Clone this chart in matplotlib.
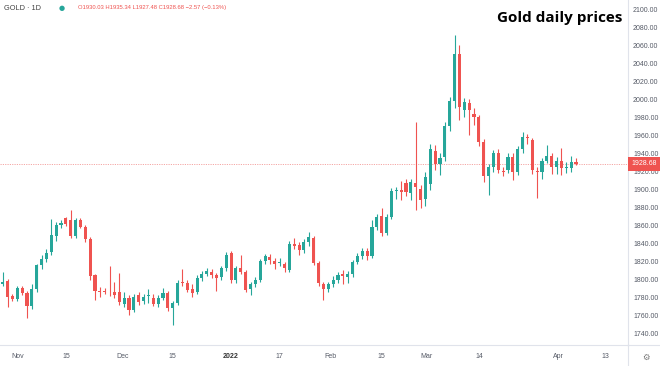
import matplotlib
matplotlib.use("Agg")
import matplotlib.pyplot as plt
import matplotlib.transforms as mtransforms
from matplotlib.lines import Line2D

# ---- data (daily candles, oldest first) ----
opens = [1795, 1799, 1782, 1779, 1791, 1785, 1771, 1790, 1816, 1823,
         1831, 1849, 1861, 1868, 1866, 1849, 1866, 1859, 1845, 1805,
         1788, 1788, 1787, 1787, 1786, 1773, 1780, 1767, 1783, 1776,
         1782, 1780, 1773, 1780, 1785, 1769, 1774, 1798, 1797, 1790,
         1786, 1802, 1807, 1809, 1805, 1803, 1813, 1830, 1800, 1813,
         1809, 1790, 1795, 1800, 1821, 1825, 1821, 1819, 1818, 1811,
         1840, 1839, 1833, 1842, 1846, 1819, 1795, 1790, 1795, 1800,
         1806, 1803, 1806, 1820, 1826, 1832, 1826, 1859, 1871, 1852,
         1870, 1898, 1900, 1907, 1896, 1907, 1901, 1889, 1906, 1943,
         1928, 1936, 1970, 1998, 2050, 1988, 1996, 1984, 1980, 1953,
         1915, 1925, 1940, 1921, 1922, 1936, 1920, 1945, 1958, 1955,
         1921, 1919, 1932, 1937, 1925, 1932, 1924, 1924, 1930.03]
highs = [1809, 1801, 1784, 1793, 1793, 1788, 1795, 1818, 1828, 1834,
         1867, 1864, 1866, 1870, 1877, 1868, 1868, 1861, 1847, 1807,
         1792, 1791, 1815, 1798, 1808, 1786, 1783, 1784, 1786, 1784,
         1790, 1784, 1783, 1791, 1788, 1777, 1800, 1812, 1800, 1795,
         1805, 1810, 1813, 1812, 1808, 1815, 1831, 1832, 1815, 1828,
         1811, 1798, 1803, 1823, 1829, 1829, 1824, 1824, 1820, 1843,
         1846, 1842, 1845, 1853, 1849, 1821, 1798, 1798, 1804, 1809,
         1811, 1810, 1822, 1830, 1835, 1835, 1866, 1873, 1880, 1873,
         1902, 1903, 1910, 1912, 1912, 1975, 1905, 1919, 1950, 1949,
         1940, 1975, 2002, 2071, 2060, 2001, 2000, 1990, 1983, 1956,
         1928, 1944, 1945, 1925, 1940, 1940, 1948, 1964, 1962, 1957,
         1925, 1935, 1949, 1941, 1936, 1946, 1930, 1937, 1935.34]
lows = [1793, 1770, 1777, 1777, 1783, 1758, 1768, 1787, 1812, 1820,
        1828, 1843, 1857, 1860, 1846, 1846, 1857, 1842, 1800, 1778,
        1781, 1784, 1782, 1780, 1772, 1770, 1761, 1764, 1772, 1773,
        1774, 1771, 1770, 1778, 1766, 1750, 1772, 1793, 1786, 1781,
        1784, 1799, 1804, 1802, 1788, 1800, 1810, 1797, 1797, 1806,
        1786, 1783, 1792, 1798, 1818, 1818, 1812, 1815, 1809, 1809,
        1834, 1828, 1830, 1838, 1816, 1793, 1778, 1786, 1792, 1797,
        1795, 1797, 1803, 1817, 1823, 1822, 1824, 1855, 1848, 1850,
        1867, 1890, 1888, 1893, 1888, 1877, 1880, 1882, 1900, 1922,
        1916, 1932, 1965, 1990, 1977, 1980, 1960, 1972, 1948, 1908,
        1894, 1920, 1918, 1915, 1918, 1911, 1916, 1941, 1950, 1917,
        1891, 1912, 1929, 1917, 1917, 1916, 1918, 1920, 1927.48]
closes = [1798, 1781, 1779, 1791, 1785, 1771, 1790, 1816, 1823, 1830,
          1850, 1861, 1863, 1862, 1849, 1866, 1859, 1845, 1804, 1788,
          1787, 1787, 1786, 1783, 1775, 1780, 1767, 1781, 1775, 1781,
          1782, 1773, 1780, 1785, 1769, 1774, 1797, 1796, 1789, 1785,
          1802, 1807, 1810, 1805, 1802, 1813, 1828, 1800, 1813, 1809,
          1789, 1795, 1800, 1821, 1826, 1822, 1817, 1820, 1813, 1840,
          1838, 1833, 1842, 1847, 1819, 1796, 1790, 1795, 1800, 1805,
          1804, 1806, 1820, 1826, 1832, 1826, 1859, 1870, 1852, 1870,
          1898, 1899, 1897, 1897, 1908, 1903, 1888, 1914, 1945, 1928,
          1935, 1970, 1998, 2050, 1991, 1997, 1988, 1980, 1953, 1915,
          1925, 1940, 1922, 1920, 1936, 1919, 1945, 1958, 1957, 1922,
          1919, 1932, 1937, 1925, 1932, 1924, 1925, 1931, 1928.68]

tick_labels = ["Nov", "15", "Dec", "15", "2022", "17", "Feb", "15", "Mar", "14", "Apr", "13"]
tick_bars = [3, 13, 24.7, 35, 47, 57, 67.5, 78, 87.3, 98, 114.3, 124]
price_ticks = list(range(1740, 2101, 20))
last_price = 1928.68
header_symbol = "GOLD · 1D"
header_ohlc = "O1930.03 H1935.34 L1927.48 C1928.68 \u22122.57 (\u22120.13%)"
title = "Gold daily prices"

UP = "#26a69a"
DOWN = "#ef5350"
AXC = "#e0e3eb"
TXT = "#555a66"

W, H = 660, 366
fig = plt.figure(figsize=(W / 100, H / 100), dpi=100)
ax = fig.add_axes([0, 21 / H, 628 / W, 345 / H])
ax.set_facecolor("white")

n = len(opens)
xs = list(range(n))
cols = [UP if c >= o else DOWN for o, c in zip(opens, closes)]
bottoms = [min(o, c) for o, c in zip(opens, closes)]
heights = [max(abs(c - o), 0.9) for o, c in zip(opens, closes)]

ax.vlines(xs, lows, highs, colors=cols, linewidth=0.8, zorder=2)
ax.bar(xs, heights, bottom=bottoms, width=0.64, color=cols, linewidth=0, zorder=3)

ax.axhline(last_price, color="#f4a7a5", linewidth=0.7, linestyle=(0, (1.2, 1.2)), zorder=1)

ax.set_xlim(-0.56, 128.7)
ax.set_ylim(1727.8, 2110.0)

for s in ["top", "left"]:
    ax.spines[s].set_visible(False)
for s in ["right", "bottom"]:
    ax.spines[s].set_color(AXC)
    ax.spines[s].set_linewidth(0.8)

ax.yaxis.tick_right()
ax.set_yticks(price_ticks)
ax.set_yticklabels([f"{p:.2f}" for p in price_ticks], fontsize=5, color=TXT,
                   family=["Liberation Sans", "DejaVu Sans"])
ax.tick_params(axis="y", length=0, pad=3.6)

ax.set_xticks(tick_bars)
ax.set_xticklabels(tick_labels, fontsize=5, color=TXT, family=["Liberation Sans", "DejaVu Sans"])
ax.tick_params(axis="x", length=0, pad=6.0)
for lbl in ax.get_xticklabels():
    if lbl.get_text() == "2022":
        lbl.set_fontweight("bold")
        lbl.set_color("#333333")

# last-price tag on the price scale
trans = mtransforms.blended_transform_factory(ax.transAxes, ax.transData)
ax.annotate(f"{last_price:.2f}", xy=(1.0, last_price), xycoords=trans,
            xytext=(2.4, 0), textcoords="offset points", ha="left", va="center",
            fontsize=5, color="white", family=["Liberation Sans", "DejaVu Sans"],
            bbox=dict(boxstyle="square,pad=0.5", fc=DOWN, ec="none"),
            annotation_clip=False, zorder=10)

# extend axis frame lines
fig.add_artist(Line2D([628 / W, 628 / W], [0, 21 / H], transform=fig.transFigure,
                      color=AXC, linewidth=0.8))
fig.add_artist(Line2D([628 / W, 1], [21 / H, 21 / H], transform=fig.transFigure,
                      color=AXC, linewidth=0.8))

# header
fig.text(4 / W, 1 - 8 / H, header_symbol, fontsize=5.3, color="#444444", va="center",
         family=["Liberation Sans", "DejaVu Sans"])
fig.text(62 / W, 1 - 8 / H, "\u25cf", fontsize=5, color=UP, va="center", ha="center",
         family=["DejaVu Sans"])
fig.text(78 / W, 1 - 8 / H, header_ohlc, fontsize=4.2, color=DOWN, va="center",
         family=["Liberation Sans", "DejaVu Sans"])

# title
fig.text(622 / W, 1 - 18 / H, title, fontsize=11, fontweight="bold", color="black",
         ha="right", va="center", family=["Open Sans", "DejaVu Sans"])

# settings gear
fig.text(646 / W, 1 - 357 / H, "\u2699", fontsize=6, color="#777777", ha="center", va="center",
         family=["DejaVu Sans"])

fig.savefig("out.png", dpi=100, facecolor="white")
